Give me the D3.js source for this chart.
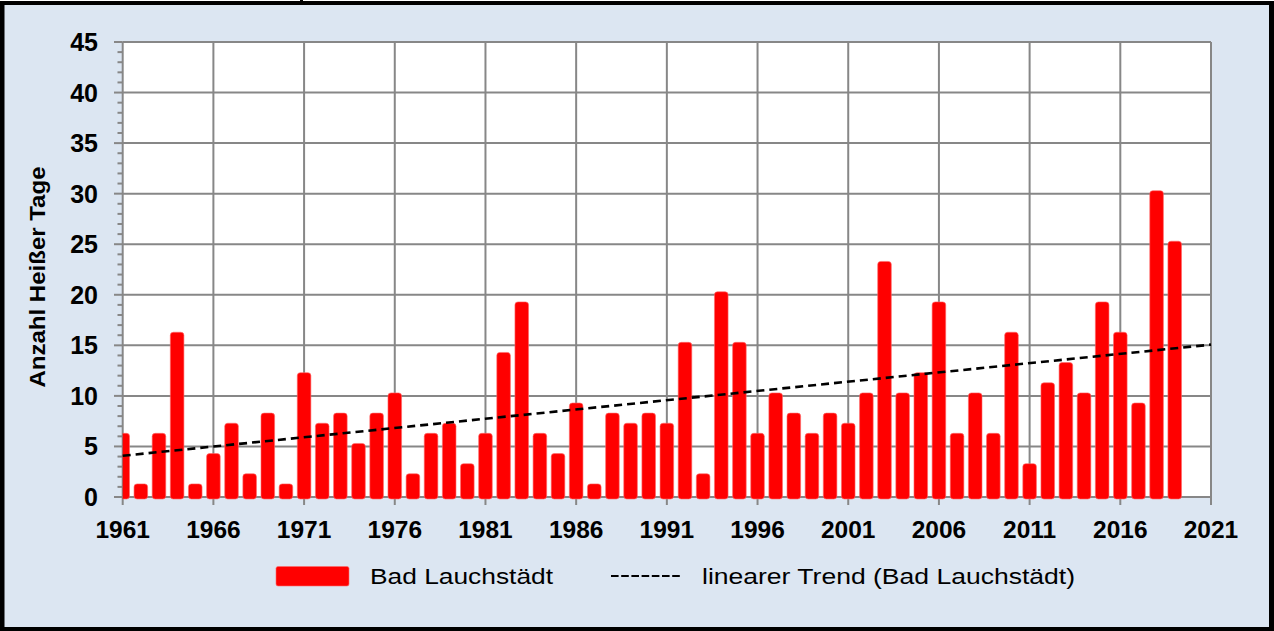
<!DOCTYPE html>
<html>
<head>
<meta charset="utf-8">
<script src="https://cdn.jsdelivr.net/npm/d3@7"></script>
<style>
html,body{margin:0;padding:0;background:#fff;}
svg{display:block;}
</style>
</head>
<body>
<script>
// ---- data ----
const years = d3.range(1961, 2020);
const hotDays = [6,1,6,16,1,4,7,2,8,1,
                 12,7,8,5,8,10,2,6,7,3,
                 6,14,19,6,4,9,1,8,7,8,
                 7,15,2,20,15,6,10,8,6,8,
                 7,10,23,10,12,19,6,10,6,16,
                 3,11,13,10,19,16,9,30,25];
const xTicks = [1961,1966,1971,1976,1981,1986,1991,1996,2001,2006,2011,2016,2021];
const yTicks = [0,5,10,15,20,25,30,35,40,45];
const seriesName = "Bad Lauchstädt";
const trendName = "linearer Trend (Bad Lauchstädt)";
const yTitle = "Anzahl Heißer Tage";

(function(){
const W = 1274, H = 631;
const pL = 122.7, pR = 1211, pT = 42, pB = 497;

const svg = d3.select("body").append("svg").attr("width", W).attr("height", H);

// frame
svg.append("rect").attr("x",0).attr("y",1).attr("width",W).attr("height",H-1).attr("fill","#000");
svg.append("rect").attr("x",4.5).attr("y",5).attr("width",1264.5).attr("height",622).attr("fill","#dce6f2");
svg.append("rect").attr("x",300).attr("y",0).attr("width",3).attr("height",5).attr("fill","#000");

const x = d3.scaleLinear().domain([1961, 2021]).range([pL, pR]);
const y = d3.scaleLinear().domain([0, 45]).range([pB, pT]);

// plot area
svg.append("rect").attr("x",pL).attr("y",pT).attr("width",pR-pL).attr("height",pB-pT).attr("fill","#fff");

const gridColor = "#878787";
svg.append("g").selectAll("line").data(yTicks).join("line")
  .attr("x1",pL).attr("x2",pR).attr("y1",d=>y(d)).attr("y2",d=>y(d))
  .attr("stroke",gridColor).attr("stroke-width",2);
svg.append("g").selectAll("line").data(xTicks).join("line")
  .attr("x1",d=>x(d)).attr("x2",d=>x(d)).attr("y1",pT).attr("y2",pB)
  .attr("stroke",gridColor).attr("stroke-width",2);

// y axis minor / major ticks
svg.append("g").selectAll("line").data(d3.range(0,46)).join("line")
  .attr("x1",d=> d%5===0 ? 114 : 117.5).attr("x2",pL)
  .attr("y1",d=>y(d)).attr("y2",d=>y(d))
  .attr("stroke",gridColor).attr("stroke-width",2);
// x axis ticks
svg.append("g").selectAll("line").data(xTicks).join("line")
  .attr("x1",d=>x(d)).attr("x2",d=>x(d)).attr("y1",pB).attr("y2",pB+8)
  .attr("stroke",gridColor).attr("stroke-width",2);

// clip
svg.append("clipPath").attr("id","clip").append("rect")
  .attr("x",pL).attr("y",0).attr("width",pR-pL).attr("height",pB+3);

const barW = 13.6;
svg.append("g").attr("clip-path","url(#clip)").selectAll("rect").data(years).join("rect")
  .attr("x",(d)=>x(d)-barW/2).attr("width",barW)
  .attr("y",(d,i)=>y(hotDays[i])-3)
  .attr("height",(d,i)=>y(0)+2-(y(hotDays[i])-3))
  .attr("rx",3).attr("ry",3)
  .attr("fill","#ff0000").attr("stroke","#ff6a6a").attr("stroke-width",0.6);

// trend (least squares)
const mx = d3.mean(years), my = d3.mean(hotDays);
let sxy=0,sxx=0;
years.forEach((yr,i)=>{sxy+=(yr-mx)*(hotDays[i]-my); sxx+=(yr-mx)*(yr-mx);});
const slope = sxy/sxx, icpt = my - slope*mx;
const trendPts = [1961, 2021].map(yr=>[yr, icpt+slope*yr]);
svg.append("path").datum(trendPts)
  .attr("d", d3.line().x(d=>x(d[0])).y(d=>y(d[1])))
  .attr("stroke","#000").attr("stroke-width",2.6).attr("stroke-dasharray","8,5").attr("fill","none");

const font = "'Liberation Sans', Arial, sans-serif";
svg.append("g").selectAll("text").data(yTicks).join("text")
  .attr("x",98).attr("y",d=>y(d)).attr("dy","0.36em")
  .attr("text-anchor","end").attr("font-family",font).attr("font-weight","bold").attr("font-size",25)
  .attr("fill","#000").text(d=>d);
svg.append("g").selectAll("text").data(xTicks).join("text")
  .attr("x",d=>x(d)).attr("y",538)
  .attr("text-anchor","middle").attr("font-family",font).attr("font-weight","bold").attr("font-size",24.5)
  .attr("fill","#000").text(d=>d);

svg.append("text").attr("transform","translate(45,277) rotate(-90)")
  .attr("text-anchor","middle").attr("font-family",font).attr("font-weight","bold").attr("font-size",22)
  .attr("textLength",221).attr("lengthAdjust","spacingAndGlyphs")
  .attr("fill","#000").text(yTitle);

// legend
svg.append("rect").attr("x",276).attr("y",566.5).attr("width",73).attr("height",19.5).attr("rx",2)
  .attr("fill","#ff0000").attr("stroke","#ff6a6a").attr("stroke-width",0.6);
svg.append("text").attr("x",370).attr("y",584).attr("font-family",font).attr("font-size",22)
  .attr("textLength",183).attr("lengthAdjust","spacingAndGlyphs").attr("fill","#000").text(seriesName);
svg.append("line").attr("x1",611).attr("x2",680).attr("y1",576).attr("y2",576)
  .attr("stroke","#000").attr("stroke-width",2).attr("stroke-dasharray","7.6,2.6");
svg.append("text").attr("x",702).attr("y",584).attr("font-family",font).attr("font-size",22)
  .attr("textLength",373).attr("lengthAdjust","spacingAndGlyphs").attr("fill","#000").text(trendName);
})();
</script>
</body>
</html>
